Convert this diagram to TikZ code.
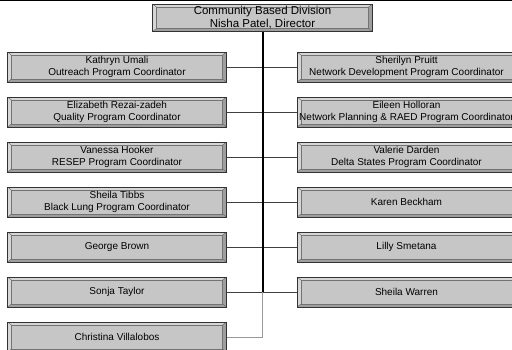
\documentclass[tikz,border=0pt]{standalone}
\usepackage{fontspec}
\setmainfont{Liberation Sans}
\definecolor{boxgray}{RGB}{198,198,198}
\definecolor{bandlight}{RGB}{214,214,214}
\definecolor{banddark}{RGB}{158,158,158}
\tikzset{
  post/.style={draw=black!80, fill=bandlight, inner sep=0pt, align=center,
    minimum width=219pt, minimum height=30pt, font=\fontsize{10}{12}\selectfont,
    path picture={
      \path (path picture bounding box.south west) coordinate (bsw)
            (path picture bounding box.south east) coordinate (bse)
            (path picture bounding box.north west) coordinate (bnw)
            (path picture bounding box.north east) coordinate (bne);
      \fill[banddark] (bsw) -- (bse) -- (bne) -- ([shift={(-4pt,-3pt)}]bne) -- ([shift={(-4pt,3pt)}]bse) -- ([shift={(4pt,3pt)}]bsw) -- cycle;
      \filldraw[fill=boxgray, draw=black!55] ([shift={(4pt,3pt)}]bsw) rectangle ([shift={(-4pt,-3pt)}]bne);
      \draw[black!60] (bsw) -- ++(4pt,3pt) (bse) -- ++(-4pt,3pt) (bnw) -- ++(4pt,-3pt) (bne) -- ++(-4pt,-3pt);
    }},
  chief/.style={post, minimum width=220pt, minimum height=27.5pt, font=\fontsize{11.5}{12.5}\selectfont},
  link/.style={draw=black!75, line width=0.8pt},
  trunk/.style={draw=black, line width=2pt}
}
\begin{document}
\begin{tikzpicture}[x=1pt, y=-1pt]
  \useasboundingbox (0,0) rectangle (512,349);
  \draw[black, line width=1.2pt] (0,0.6) -- (512,0.6);
  \node[chief] (div) at (262.5,17.75) {Community Based Division\\Nisha Patel, Director};
  % left column
  \node[post] (umali) at (117,67) {Kathryn Umali\\Outreach Program Coordinator};
  \node[post] (rezai) at (117,112) {Elizabeth Rezai-zadeh\\Quality Program Coordinator};
  \node[post] (hooker) at (117,157) {Vanessa Hooker\\RESEP Program Coordinator};
  \node[post] (tibbs) at (117,202) {Sheila Tibbs\\Black Lung Program Coordinator};
  \node[post] (brown) at (117,247) {George Brown};
  \node[post] (taylor) at (117,292) {Sonja Taylor};
  \node[post] (villalobos) at (117,337) {Christina Villalobos};
  % right column
  \node[post] (pruitt) at (406.5,67) {Sherilyn Pruitt\\Network Development Program Coordinator};
  \node[post] (holloran) at (406.5,112) {Eileen Holloran\\Network Planning \& RAED Program Coordinator};
  \node[post] (darden) at (406.5,157) {Valerie Darden\\Delta States Program Coordinator};
  \node[post] (beckham) at (406.5,202) {Karen Beckham};
  \node[post] (smetana) at (406.5,247) {Lilly Smetana};
  \node[post] (warren) at (406.5,292) {Sheila Warren};
  % connectors
  \foreach \l/\r in {umali/pruitt, rezai/holloran, hooker/darden, tibbs/beckham, brown/smetana, taylor/warren}
    \draw[link] (\l.east) -- (\r.west);
  \draw[link, draw=gray!80] (villalobos.east) -| (div.south |- taylor.east);
  \draw[trunk] (div.south) -- (div.south |- taylor.east);
\end{tikzpicture}
\end{document}
